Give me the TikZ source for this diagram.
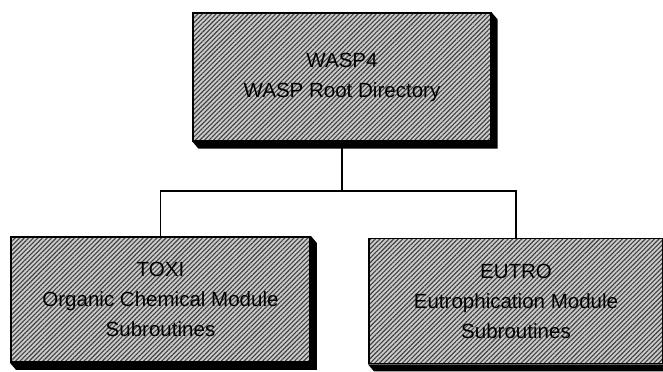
\documentclass[tikz,border=0pt]{standalone}
\usepackage{fontspec}
\setmainfont{Liberation Sans}
\usetikzlibrary{positioning,patterns.meta}

% black side faces under and right of a box
\newcommand{\boxdepth}[1]{%
        \fill ([xshift=0pt]#1.north east) -- ++(6,7) -- ([shift={(6,7)}]#1.south east) -- ([shift={(6,7)}]#1.south west) -- (#1.south west) -- (#1.south east) -- cycle;}

\tikzset{
        dirbox/.style={draw, line width=1.3pt, align=center,
                preaction={fill=gray!40},
                pattern={Lines[angle=45,distance=2.3pt,line width=0.8pt]}, pattern color=black!75,
                font=\fontsize{14.6}{21.3}\selectfont, inner sep=0pt},
        link/.style={line width=1pt}
}

\begin{document}
\begin{tikzpicture}[x=0.025cm, y=-0.025cm]
        \useasboundingbox (0,0) rectangle (663,372);

        \node[dirbox, minimum width=7.45cm, minimum height=3.2cm] (wasp) at (342,77) {WASP4\\WASP Root Directory};
        \node[dirbox, minimum width=7.475cm, minimum height=3.125cm] (toxi) at (160.5,299.5) {TOXI\\Organic Chemical Module\\Subroutines};
        \node[dirbox, minimum width=7.35cm, minimum height=3.125cm] (eutro) at (516,301) {EUTRO\\Eutrophication Module\\Subroutines};

        \coordinate (hub) at (342,191);
        \draw[link] (wasp.south) -- (hub);
        \draw[link] (toxi.north) |- (hub) -| (eutro.north);

        \boxdepth{wasp}
        \boxdepth{toxi}
        \boxdepth{eutro}
\end{tikzpicture}
\end{document}
